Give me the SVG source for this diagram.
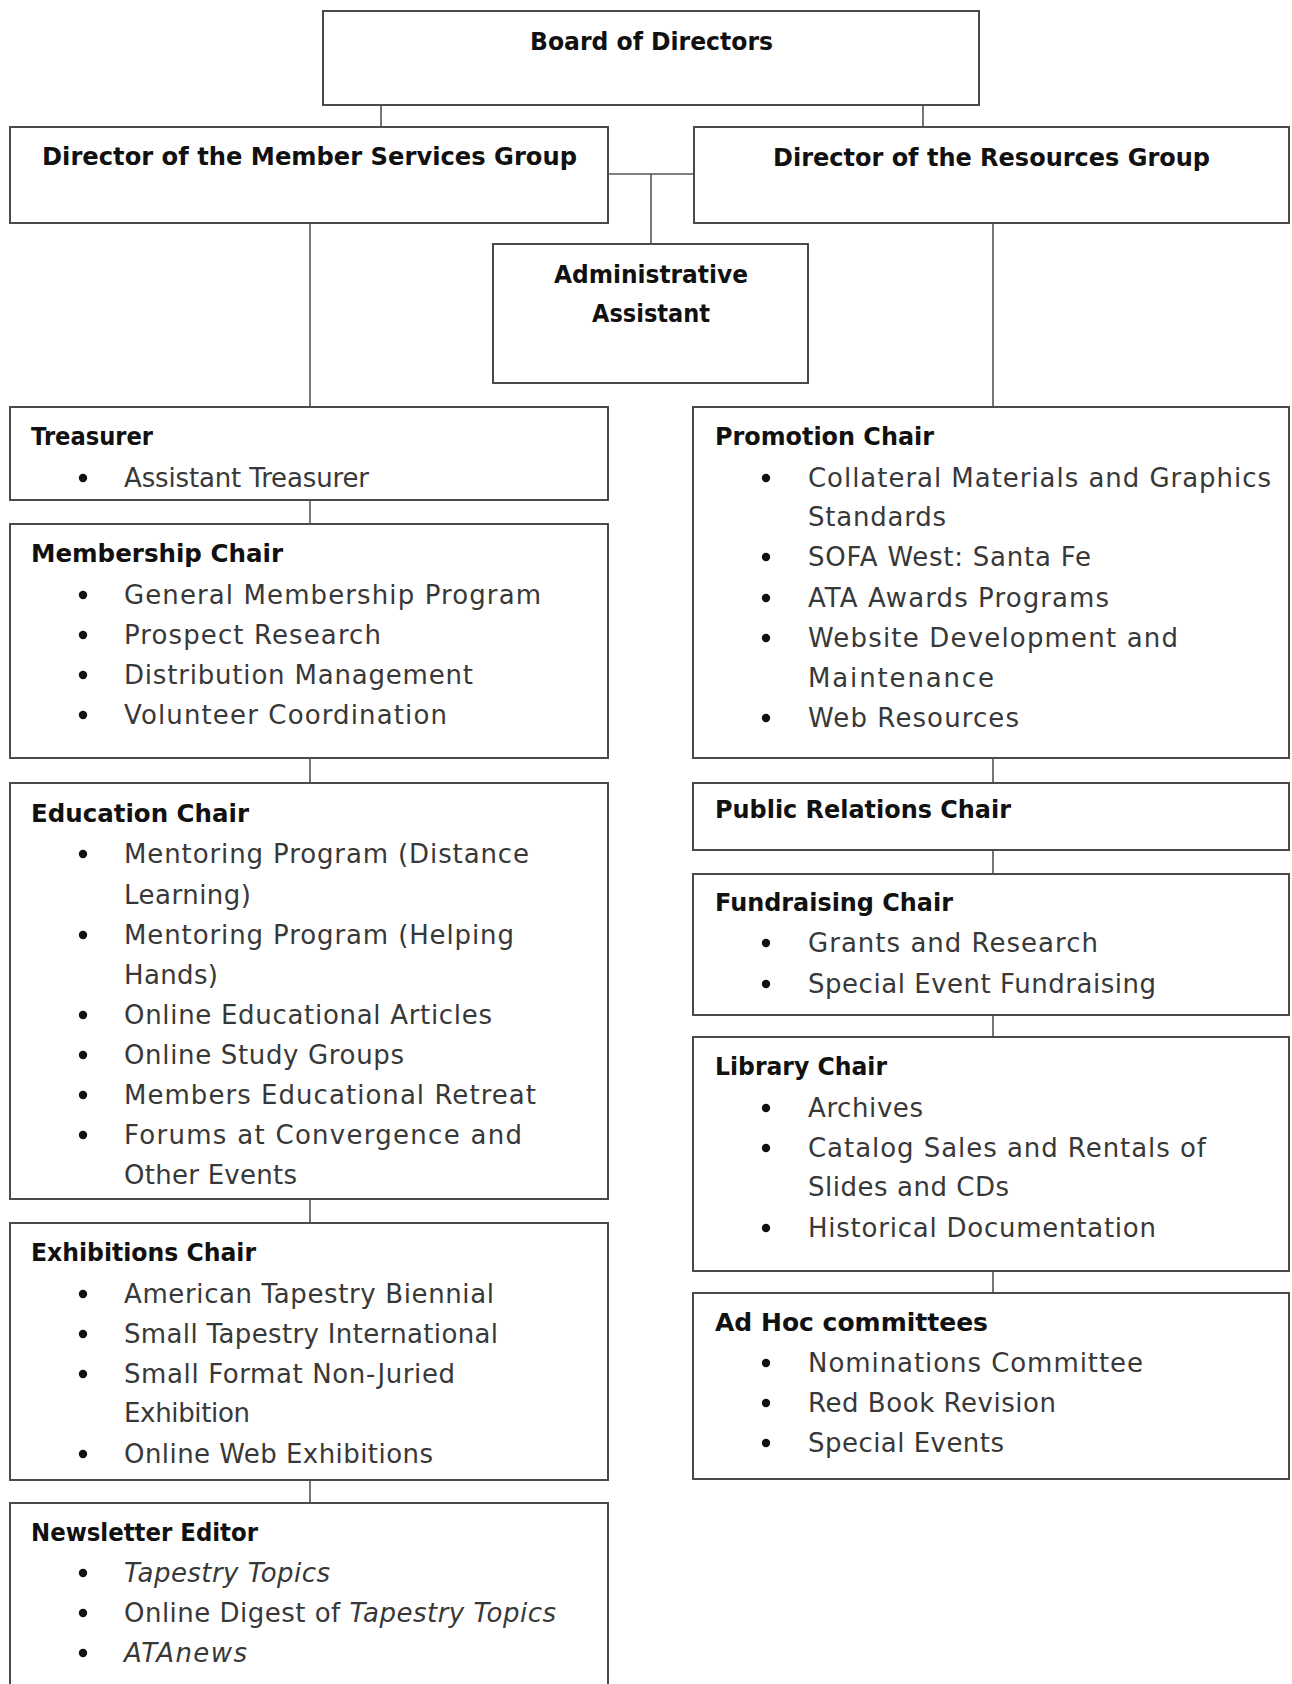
<svg xmlns="http://www.w3.org/2000/svg" width="1292" height="1684" viewBox="0 0 1292 1684">
<style>
.box{fill:#fff;stroke:#4a4a4a;stroke-width:2}
.ln{stroke:#555;stroke-width:1.6;fill:none}
.t{font-family:"DejaVu Sans","Liberation Sans",sans-serif;font-weight:bold;font-size:24px;fill:#111}
.i{font-family:"DejaVu Sans","Liberation Sans",sans-serif;font-size:26px;fill:#383838}
.it{font-style:italic}
.b{fill:#111}
</style>
<rect width="1292" height="1684" fill="#fff"/>
<g id="connectors">
<line class="ln" x1="381" y1="105" x2="381" y2="127"/>
<line class="ln" x1="923" y1="105" x2="923" y2="127"/>
<line class="ln" x1="608" y1="174" x2="694" y2="174"/>
<line class="ln" x1="651" y1="174" x2="651" y2="244"/>
<line class="ln" x1="310" y1="223" x2="310" y2="407"/>
<line class="ln" x1="993" y1="223" x2="993" y2="407"/>
<line class="ln" x1="310" y1="500" x2="310" y2="524"/>
<line class="ln" x1="310" y1="758" x2="310" y2="783"/>
<line class="ln" x1="310" y1="1199" x2="310" y2="1223"/>
<line class="ln" x1="310" y1="1480" x2="310" y2="1503"/>
<line class="ln" x1="993" y1="758" x2="993" y2="783"/>
<line class="ln" x1="993" y1="850" x2="993" y2="874"/>
<line class="ln" x1="993" y1="1015" x2="993" y2="1037"/>
<line class="ln" x1="993" y1="1271" x2="993" y2="1293"/>
</g>
<g id="board">
<rect class="box" x="323" y="11" width="656" height="94"/>
<text class="t" x="530" y="50" textLength="243" lengthAdjust="spacingAndGlyphs">Board of Directors</text>
</g>
<g id="member-services">
<rect class="box" x="10" y="127" width="598" height="96"/>
<text class="t" x="42" y="165" textLength="535" lengthAdjust="spacingAndGlyphs">Director of the Member Services Group</text>
</g>
<g id="resources">
<rect class="box" x="694" y="127" width="595" height="96"/>
<text class="t" x="773" y="166" textLength="437" lengthAdjust="spacingAndGlyphs">Director of the Resources Group</text>
</g>
<g id="admin">
<rect class="box" x="493" y="244" width="315" height="139"/>
<text class="t" x="554" y="283" textLength="194" lengthAdjust="spacingAndGlyphs">Administrative</text>
<text class="t" x="592" y="322" textLength="118" lengthAdjust="spacingAndGlyphs">Assistant</text>
</g>
<g id="treasurer">
<rect class="box" x="10" y="407" width="598" height="93"/>
<text class="t" x="31" y="445" textLength="122" lengthAdjust="spacingAndGlyphs">Treasurer</text>
<circle class="b" cx="83" cy="478" r="4.2"/>
<text class="i" x="124" y="487" textLength="245">Assistant Treasurer</text>
</g>
<g id="membership">
<rect class="box" x="10" y="524" width="598" height="234"/>
<text class="t" x="31" y="562" textLength="252" lengthAdjust="spacingAndGlyphs">Membership Chair</text>
<circle class="b" cx="83" cy="595" r="4.2"/>
<text class="i" x="124" y="604" textLength="417">General Membership Program</text>
<circle class="b" cx="83" cy="635" r="4.2"/>
<text class="i" x="124" y="644" textLength="257">Prospect Research</text>
<circle class="b" cx="83" cy="675" r="4.2"/>
<text class="i" x="124" y="684" textLength="349">Distribution Management</text>
<circle class="b" cx="83" cy="715" r="4.2"/>
<text class="i" x="124" y="724" textLength="323">Volunteer Coordination</text>
</g>
<g id="education">
<rect class="box" x="10" y="783" width="598" height="416"/>
<text class="t" x="31" y="822" textLength="218" lengthAdjust="spacingAndGlyphs">Education Chair</text>
<circle class="b" cx="83" cy="854" r="4.2"/>
<text class="i" x="124" y="863" textLength="405">Mentoring Program (Distance</text>
<text class="i" x="124" y="904" textLength="127">Learning)</text>
<circle class="b" cx="83" cy="935" r="4.2"/>
<text class="i" x="124" y="944" textLength="390">Mentoring Program (Helping</text>
<text class="i" x="124" y="984" textLength="94">Hands)</text>
<circle class="b" cx="83" cy="1015" r="4.2"/>
<text class="i" x="124" y="1024" textLength="368">Online Educational Articles</text>
<circle class="b" cx="83" cy="1055" r="4.2"/>
<text class="i" x="124" y="1064" textLength="280">Online Study Groups</text>
<circle class="b" cx="83" cy="1095" r="4.2"/>
<text class="i" x="124" y="1104" textLength="412">Members Educational Retreat</text>
<circle class="b" cx="83" cy="1135" r="4.2"/>
<text class="i" x="124" y="1144" textLength="398">Forums at Convergence and</text>
<text class="i" x="124" y="1184" textLength="173">Other Events</text>
</g>
<g id="exhibitions">
<rect class="box" x="10" y="1223" width="598" height="257"/>
<text class="t" x="31" y="1261" textLength="225" lengthAdjust="spacingAndGlyphs">Exhibitions Chair</text>
<circle class="b" cx="83" cy="1294" r="4.2"/>
<text class="i" x="124" y="1303" textLength="370">American Tapestry Biennial</text>
<circle class="b" cx="83" cy="1334" r="4.2"/>
<text class="i" x="124" y="1343" textLength="374">Small Tapestry International</text>
<circle class="b" cx="83" cy="1374" r="4.2"/>
<text class="i" x="124" y="1383" textLength="331">Small Format Non-Juried</text>
<text class="i" x="124" y="1422" textLength="126">Exhibition</text>
<circle class="b" cx="83" cy="1454" r="4.2"/>
<text class="i" x="124" y="1463" textLength="309">Online Web Exhibitions</text>
</g>
<g id="newsletter">
<rect class="box" x="10" y="1503" width="598" height="200"/>
<text class="t" x="31" y="1541" textLength="227" lengthAdjust="spacingAndGlyphs">Newsletter Editor</text>
<circle class="b" cx="83" cy="1573" r="4.2"/>
<text class="i it" x="124" y="1582" textLength="206">Tapestry Topics</text>
<circle class="b" cx="83" cy="1613" r="4.2"/>
<text class="i" x="124" y="1622" textLength="432">Online Digest of <tspan class="it">Tapestry Topics</tspan></text>
<circle class="b" cx="83" cy="1653" r="4.2"/>
<text class="i it" x="124" y="1662" textLength="123">ATAnews</text>
</g>
<g id="promotion">
<rect class="box" x="693" y="407" width="596" height="351"/>
<text class="t" x="715" y="445" textLength="219" lengthAdjust="spacingAndGlyphs">Promotion Chair</text>
<circle class="b" cx="766" cy="478" r="4.2"/>
<text class="i" x="808" y="487" textLength="463">Collateral Materials and Graphics</text>
<text class="i" x="808" y="526" textLength="138">Standards</text>
<circle class="b" cx="766" cy="557" r="4.2"/>
<text class="i" x="808" y="566" textLength="283">SOFA West: Santa Fe</text>
<circle class="b" cx="766" cy="598" r="4.2"/>
<text class="i" x="808" y="607" textLength="301">ATA Awards Programs</text>
<circle class="b" cx="766" cy="638" r="4.2"/>
<text class="i" x="808" y="647" textLength="370">Website Development and</text>
<text class="i" x="808" y="687" textLength="186">Maintenance</text>
<circle class="b" cx="766" cy="718" r="4.2"/>
<text class="i" x="808" y="727" textLength="211">Web Resources</text>
</g>
<g id="public-relations">
<rect class="box" x="693" y="783" width="596" height="67"/>
<text class="t" x="715" y="818" textLength="296" lengthAdjust="spacingAndGlyphs">Public Relations Chair</text>
</g>
<g id="fundraising">
<rect class="box" x="693" y="874" width="596" height="141"/>
<text class="t" x="715" y="911" textLength="238" lengthAdjust="spacingAndGlyphs">Fundraising Chair</text>
<circle class="b" cx="766" cy="943" r="4.2"/>
<text class="i" x="808" y="952" textLength="290">Grants and Research</text>
<circle class="b" cx="766" cy="984" r="4.2"/>
<text class="i" x="808" y="993" textLength="348">Special Event Fundraising</text>
</g>
<g id="library">
<rect class="box" x="693" y="1037" width="596" height="234"/>
<text class="t" x="715" y="1075" textLength="172" lengthAdjust="spacingAndGlyphs">Library Chair</text>
<circle class="b" cx="766" cy="1108" r="4.2"/>
<text class="i" x="808" y="1117" textLength="115">Archives</text>
<circle class="b" cx="766" cy="1148" r="4.2"/>
<text class="i" x="808" y="1157" textLength="398">Catalog Sales and Rentals of</text>
<text class="i" x="808" y="1196" textLength="201">Slides and CDs</text>
<circle class="b" cx="766" cy="1228" r="4.2"/>
<text class="i" x="808" y="1237" textLength="348">Historical Documentation</text>
</g>
<g id="adhoc">
<rect class="box" x="693" y="1293" width="596" height="186"/>
<text class="t" x="715" y="1331" textLength="273" lengthAdjust="spacingAndGlyphs">Ad Hoc committees</text>
<circle class="b" cx="766" cy="1363" r="4.2"/>
<text class="i" x="808" y="1372" textLength="335">Nominations Committee</text>
<circle class="b" cx="766" cy="1403" r="4.2"/>
<text class="i" x="808" y="1412" textLength="248">Red Book Revision</text>
<circle class="b" cx="766" cy="1443" r="4.2"/>
<text class="i" x="808" y="1452" textLength="196">Special Events</text>
</g>
</svg>
